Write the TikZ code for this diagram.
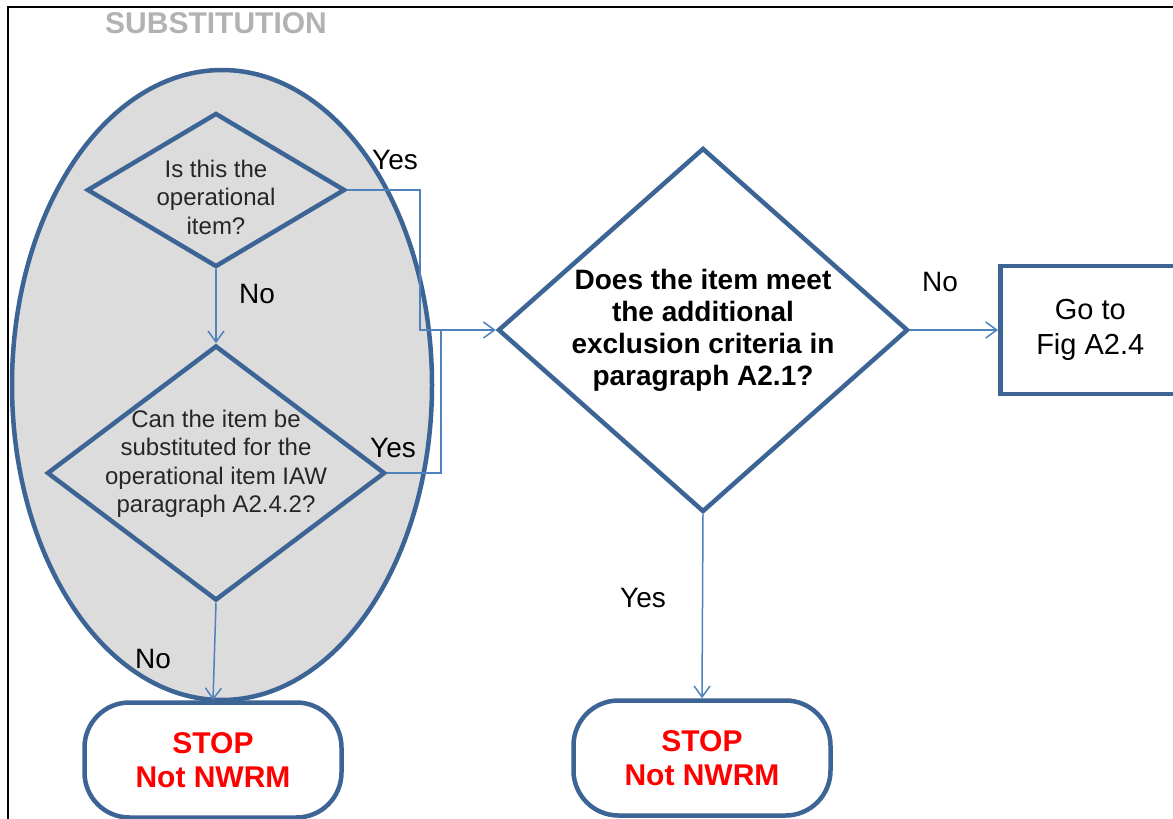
\documentclass[tikz,border=0pt]{standalone}
\usepackage{fontspec}
\setmainfont{Liberation Sans}
\usetikzlibrary{arrows.meta,shapes.geometric}

\definecolor{edgeblue}{HTML}{3C6494}
\definecolor{linkblue}{HTML}{4F81BD}
\definecolor{subgray}{HTML}{DCDCDC}

\begin{document}
\begin{tikzpicture}
[x=1pt,y=-1pt
,dec/.style={diamond,draw=edgeblue,line width=4.5pt,inner sep=0pt}
,qtxt/.style={align=center,font=\fontsize{24}{28.5}\selectfont,text=black!85}
,stopbox/.style={rectangle,rounded corners=45pt,draw=edgeblue,line width=4.5pt,fill=white,minimum width=257pt,minimum height=115pt,align=center,text=red,font=\bfseries\fontsize{30}{34}\selectfont}
,link/.style={draw=linkblue,line width=1.5pt,-{Straight Barb[length=11pt,width=16pt]}}
,wire/.style={draw=linkblue,line width=1.5pt}
,lbl/.style={font=\fontsize{28}{30}\selectfont}
]
\useasboundingbox (0,0) rectangle (1173,819);
\clip (0,0) rectangle (1173,819);
\draw[line width=2.5pt] (8,7) rectangle (1200,850);

\node[font=\bfseries\fontsize{30}{30}\selectfont,text=gray!60] (title) at (216,23) {SUBSTITUTION};
\node[ellipse,draw=edgeblue,line width=4.5pt,fill=subgray,minimum width=420pt,minimum height=630pt,inner sep=0pt] (subst) at (222,385) {};

\node[dec,minimum width=258pt,minimum height=154pt,label={[qtxt,yshift=-7pt]center:{Is this the\\operational\\item?}}] (q1) at (216,190) {};
\node[dec,minimum width=338pt,minimum height=255pt,label={[qtxt,yshift=9pt]center:{Can the item be\\substituted for the\\operational item IAW\\paragraph A2.4.2?}}] (q2) at (216,473) {};
\node[dec,minimum width=410pt,minimum height=364pt,label={[align=center,font=\bfseries\fontsize{28}{32}\selectfont]center:{Does the item meet\\the additional\\exclusion criteria in\\paragraph A2.1?}}] (q3) at (703,330) {};

\node[stopbox] (stop1) at (213,760) {STOP\\Not NWRM};
\node[stopbox] (stop2) at (702,758) {STOP\\Not NWRM};
\node[draw=edgeblue,line width=4.5pt,minimum width=180pt,minimum height=128pt,anchor=west,align=center,font=\fontsize{29}{35}\selectfont] (gobox) at (998,330) {Go to\\Fig A2.4};

\coordinate (bend) at (420,330);
\coordinate (join) at (441,330);
\draw[link] (q1.east) -| (bend) |- (q3.west);
\draw[wire] (q2.east) -| (join);
\draw[link] (q1.south) -- (q2.north);
\draw[link] (q2.south) -- (stop1.north);
\draw[link] (q3.east) -- (gobox.west);
\draw[link] (q3.south) -- (stop2.north);

\node[lbl] (yes1) at (395,160) {Yes};
\node[lbl] (no1) at (257,294) {No};
\node[lbl] (yes2) at (393,448) {Yes};
\node[lbl] (no2) at (153,659) {No};
\node[lbl] (no3) at (940,282) {No};
\node[lbl] (yes3) at (643,598) {Yes};
\end{tikzpicture}
\end{document}
